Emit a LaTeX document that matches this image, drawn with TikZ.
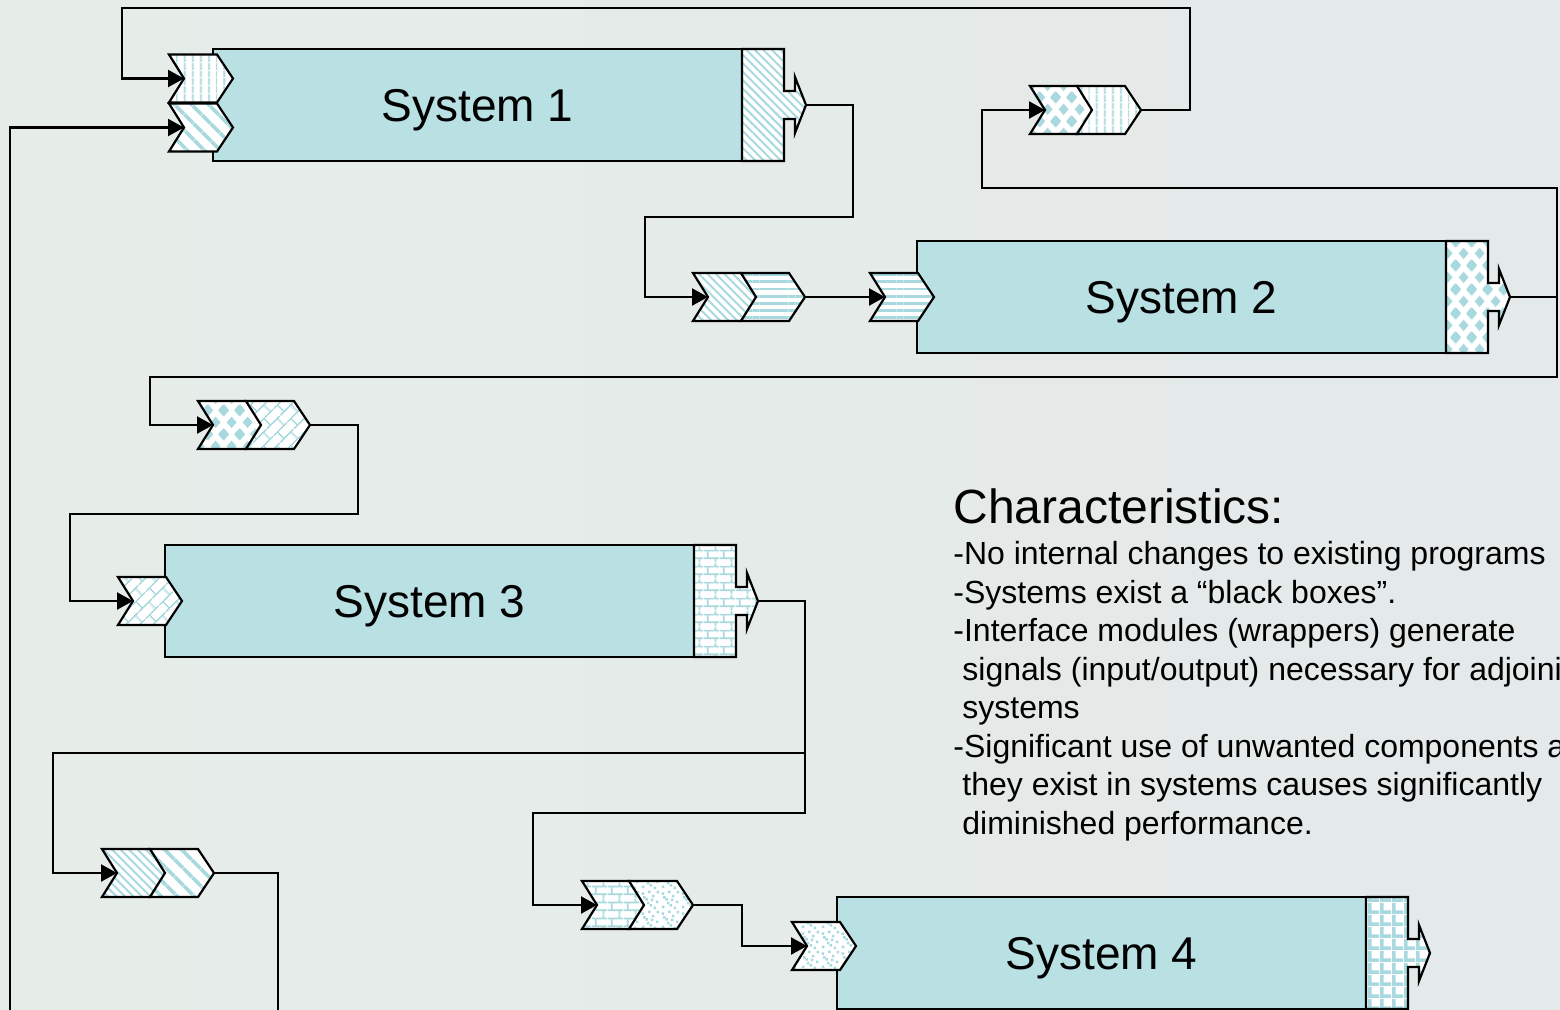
\documentclass[tikz,border=0pt]{standalone}
\usepackage{fontspec}
\setmainfont{Liberation Sans}
\usetikzlibrary{patterns,patterns.meta,arrows.meta,fadings}

\definecolor{boxcyan}{RGB}{185,224,227}
\definecolor{patcyan}{RGB}{168,217,222}
\definecolor{bgL}{RGB}{230,237,233}
\definecolor{bgM}{RGB}{212,219,217}
\definecolor{bgR}{RGB}{228,233,233}

\tikzfading[name=bandfade, left color=transparent!100, middle color=transparent!35, right color=transparent!100]

% diamonds set on a staggered grid
\tikzdeclarepattern{
  name=diamondgrid, type=uncolored,
  bottom left={(0pt,0pt)}, top right={(8pt,12pt)}, tile size={(8pt,12pt)},
  code={
    \tikzset{x=1pt,y=1pt}
    \foreach \cx/\cy in {0/0,8/0,0/12,8/12,4/6}
      \fill (\cx-2.6,\cy) -- (\cx,\cy-2.9) -- (\cx+2.6,\cy) -- (\cx,\cy+2.9) -- cycle;
  }}
% running-bond bricks
\tikzdeclarepattern{
  name=hbricks, type=uncolored,
  bottom left={(0pt,0pt)}, top right={(8pt,8pt)}, tile size={(8pt,8pt)},
  code={
    \tikzset{x=1pt,y=1pt}
    \draw[line width=0.9pt] (0,2)--(8,2) (0,6)--(8,6) (2,2)--(2,6) (6,6)--(6,8) (6,0)--(6,2);
  }}
\tikzdeclarepattern{
  name=dbricks, type=uncolored,
  bottom left={(0pt,0pt)}, top right={(10pt,10pt)}, tile size={(10pt,10pt)},
  tile transformation={rotate=45},
  code={
    \tikzset{x=1pt,y=1pt}
    \draw[line width=0.8pt] (0,2.5)--(10,2.5) (0,7.5)--(10,7.5) (2.5,2.5)--(2.5,7.5) (7.5,7.5)--(7.5,10) (7.5,0)--(7.5,2.5);
  }}
% scattered confetti
\tikzdeclarepattern{
  name=confetti, type=uncolored,
  bottom left={(0pt,0pt)}, top right={(10pt,10pt)}, tile size={(10pt,10pt)},
  code={
    \tikzset{x=1pt,y=1pt}
    \foreach \px/\py in {1/1,5/1.8,8.2/3.6,2.8/4.8,6.2/6.6,0.8/7.9,8.6/8.6,4.2/8.8,3.6/2.9,7/0.4,1.6/5.9,5.6/4.6}
      \fill (\px,\py) rectangle ++(1.3,1.3);
  }}
% small plaid
\tikzdeclarepattern{
  name=plaid, type=uncolored,
  bottom left={(0pt,0pt)}, top right={(6pt,6pt)}, tile size={(6pt,6pt)},
  code={
    \tikzset{x=1pt,y=1pt}
    \fill (0,0) rectangle (6,2);
    \fill (0,0) rectangle (2,6);
  }}

\tikzset{
  wrapsty/.style={draw=black, line width=1.1pt, line join=miter, preaction={fill=white}, pattern color=patcyan},
  pvert/.style={pattern={Lines[angle=90,distance=4pt,line width=1pt]}},
  pdiagwide/.style={pattern={Lines[angle=-45,distance=6.5pt,line width=2pt]}},
  pdiagthin/.style={pattern={Lines[angle=-45,distance=3pt,line width=1pt]}},
  phoriz/.style={pattern={Lines[angle=0,distance=3.6pt,line width=1.4pt]}},
  pdiamond/.style={pattern=diamondgrid},
  phbrick/.style={pattern=hbricks},
  pdbrick/.style={pattern=dbricks},
  pconf/.style={pattern=confetti},
  pplaid/.style={pattern=plaid},
  sysbox/.style={draw=black, line width=1.1pt, fill=boxcyan, minimum width=264.5pt,
    minimum height=56pt, inner sep=0pt, text height=16.5pt, text depth=0pt,
    font=\fontsize{23}{27}\selectfont},
  conn/.style={draw=black, line width=1.1pt},
  arr/.style={conn, -{Triangle[length=8pt,width=8.5pt]}},
  heading/.style={anchor=base west, inner sep=0pt, font=\fontsize{24}{28}\selectfont},
  bullet/.style={anchor=base west, inner sep=0pt, font=\fontsize{16}{19}\selectfont},
}

% input wrapper: chevron given by its left x and middle y
\newcommand\wchev[4]{%
  \path[wrapsty,#4] (#2,#3-24) -- (#2+48,#3-24) -- (#2+64,#3) -- (#2+48,#3+24)
    -- (#2,#3+24) -- (#2+15,#3) -- cycle;
  \coordinate (#1-in) at (#2+15,#3);
  \coordinate (#1-out) at (#2+64,#3);}
% output wrapper: patterned block with a block arrow
\newcommand\wout[4]{%
  \path[wrapsty,#4] (#2,#3-56) -- (#2+42,#3-56) -- (#2+42,#3-14) -- (#2+53,#3-14)
    -- (#2+53,#3-28) -- (#2+64,#3) -- (#2+53,#3+28) -- (#2+53,#3+14) -- (#2+42,#3+14)
    -- (#2+42,#3+56) -- (#2,#3+56) -- cycle;
  \coordinate (#1-out) at (#2+64,#3);}

\begin{document}
\begin{tikzpicture}[x=0.5pt,y=-0.5pt]
\useasboundingbox (0,0) rectangle (1560,1009);
\clip (0,0) rectangle (1560,1009);
% backdrop with a soft light band on the left
\shade[left color=bgL, middle color=bgM, right color=bgR] (0,0) rectangle (1560,1009);
\fill[white, path fading=bandfade] (150,0) rectangle (360,1009);

% systems
\node[sysbox] (s1) at (477.5,105) {System 1};
\node[sysbox] (s2) at (1181.5,297) {System 2};
\node[sysbox] (s3) at (429.5,601) {System 3};
\node[sysbox] (s4) at (1101.5,953) {System 4};

% output wrappers
\wout{s1o}{742}{105}{pdiagthin}
\wout{s2o}{1446}{297}{pdiamond}
\wout{s3o}{694}{601}{phbrick}
\wout{s4o}{1366}{953}{pplaid}

% input wrappers on the systems
\wchev{s1a}{169}{78.5}{pvert}
\wchev{s1b}{169}{127.5}{pdiagwide}
\wchev{s2i}{870}{297}{phoriz}
\wchev{s3i}{118}{601}{pdbrick}
\wchev{s4i}{792}{946}{pconf}

% converter pairs
\wchev{pa1}{693}{297}{pdiagthin}
\wchev{pa2}{741}{297}{phoriz}
\wchev{pb1}{1030}{110}{pdiamond}
\wchev{pb2}{1077}{110}{pvert}
\wchev{pc1}{198}{425}{pdiamond}
\wchev{pc2}{246}{425}{pdbrick}
\wchev{pd1}{102}{873}{pdiagthin}
\wchev{pd2}{150}{873}{pdiagwide}
\wchev{pe1}{582}{905}{phbrick}
\wchev{pe2}{629}{905}{pconf}

% junctions and loose ends
\coordinate (s2split) at (1557,297);
\coordinate (s3split) at (805,753);
\coordinate (leftend) at (10,1020);
\coordinate (pdend) at (278,1020);

% connectors
\draw[arr] (s1o-out) -| (853,217) -| (645,297) -- (pa1-in);
\draw[arr] (pa2-out) -- (s2i-in);
\draw[conn] (s2o-out) -- (s2split);
\draw[arr] (s2split) |- (982,188) |- (pb1-in);
\draw[arr] (s2split) |- (150,377) |- (pc1-in);
\draw[arr] (pb2-out) -| (1190,8) -| (122,78.5) -- (s1a-in);
\draw[arr] (pc2-out) -| (358,514) -| (70,601) -- (s3i-in);
\draw[arr] (s3o-out) -| (805,813) -| (533,905) -- (pe1-in);
\draw[arr] (s3split) -| (53,873) -- (pd1-in);
\draw[conn] (pd2-out) -| (pdend);
\draw[arr] (leftend) |- (s1b-in);
\draw[arr] (pe2-out) -| (742,946) -- (s4i-in);

% notes
\node[heading] (hd) at (953,523) {Characteristics:};
\node[bullet] (n1) at (953,564.5) {-No internal changes to existing programs};
\node[bullet] (n2) at (953,603) {-Systems exist a “black boxes”.};
\node[bullet] (n3) at (953,641.5) {-Interface modules (wrappers) generate};
\node[bullet] (n4) at (962,680) {signals (input/output) necessary for adjoining};
\node[bullet] (n5) at (962,718.5) {systems};
\node[bullet] (n6) at (953,757) {-Significant use of unwanted components as};
\node[bullet] (n7) at (962,795.5) {they exist in systems causes significantly};
\node[bullet] (n8) at (962,834) {diminished performance.};
\end{tikzpicture}
\end{document}
